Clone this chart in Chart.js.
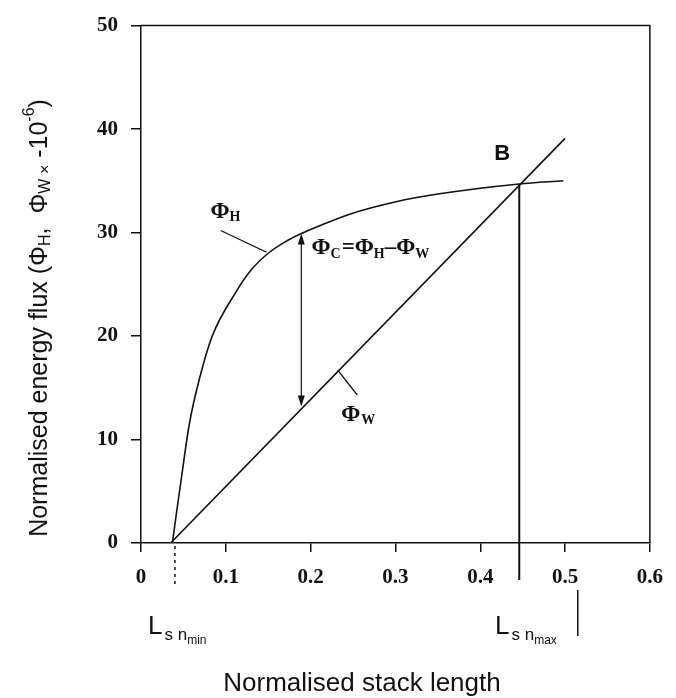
<!DOCTYPE html>
<html>
<head>
<meta charset="utf-8">
<script src="https://cdn.jsdelivr.net/npm/chart.js@4/dist/chart.umd.min.js"></script>
<style>
  html, body { margin: 0; padding: 0; background: #fff; }
  #wrap { width: 676px; height: 698px; }
</style>
</head>
<body>
<div id="wrap"><canvas id="chart-canvas" width="676" height="698"></canvas></div>
<script>
// values
const xTickLabels = ['0', '0.1', '0.2', '0.3', '0.4', '0.5', '0.6']
const yTickLabels = ['0', '10', '20', '30', '40', '50']

// heat flux curve (Phi_H)
const phiHx = [0.037, 0.042, 0.048, 0.057, 0.069, 0.084, 0.1115, 0.130, 0.150, 0.170, 0.189, 0.209, 0.247, 0.302, 0.348, 0.446, 0.498]
const phiHy = [0, 3.0, 6.5, 11.5, 15.9, 20.0, 24.2, 26.4, 28.0, 29.1, 29.9, 30.6, 31.8, 33.0, 33.7, 34.7, 35.0]

// work flux line (Phi_W)
const phiWx = [0.035, 0.5]
const phiWy = [0, 39.1]

// annotation anchors (data units)
const pointB = { x: 0.446, y: 34.7 }
const lsnMinX = 0.04
const markX = 0.515
const arrow = { x: 0.189, top: 29.9, bottom: 13.2 }
const labelPhiH = { x: 0.082, y: 32.0 }
const leaderPhiH = [{ x: 0.094, y: 30.2 }, { x: 0.148, y: 28.1 }]
const labelPhiC = { x: 0.201, y: 28.5 }
const labelPhiW = { x: 0.236, y: 12.4 }
const leaderPhiW = [{ x: 0.232, y: 16.7 }, { x: 0.255, y: 14.3 }]
const labelB = { x: 0.426, y: 37.6 }

const INK = '#111'
const SERIF = '"Liberation Serif", "DejaVu Serif", serif'
const SANS = '"Liberation Sans", Arial, sans-serif'

function toPoints (xs, ys) {
  return xs.map((x, i) => ({ x: x, y: ys[i] }))
}

// draws a run of text pieces, each with its own font and baseline shift
function drawRich (ctx, x, y, parts) {
  let cx = x
  parts.forEach(p => {
    ctx.font = p.font
    ctx.fillText(p.text, cx, y + (p.dy || 0))
    cx += ctx.measureText(p.text).width + (p.gap || 0)
  })
  return cx
}

function richWidth (ctx, parts) {
  let w = 0
  parts.forEach(p => {
    ctx.font = p.font
    w += ctx.measureText(p.text).width + (p.gap || 0)
  })
  return w
}

const annotations = {
  id: 'annotations',
  afterDatasetsDraw (chart) {
    const { ctx, chartArea: area, scales: { x, y } } = chart
    const px = v => x.getPixelForValue(v)
    const py = v => y.getPixelForValue(v)

    ctx.save()
    ctx.strokeStyle = INK
    ctx.fillStyle = INK
    ctx.lineCap = 'butt'

    // top and right frame
    ctx.lineWidth = 1.5
    ctx.beginPath()
    ctx.moveTo(area.left, area.top)
    ctx.lineTo(area.right, area.top)
    ctx.lineTo(area.right, area.bottom)
    ctx.stroke()

    // vertical drop from B through the axis
    ctx.lineWidth = 2
    ctx.beginPath()
    ctx.moveTo(px(pointB.x), py(pointB.y))
    ctx.lineTo(px(pointB.x), area.bottom + 37)
    ctx.stroke()

    // dotted marker at L_sn min
    ctx.lineWidth = 1.5
    ctx.setLineDash([3, 4])
    ctx.beginPath()
    ctx.moveTo(px(lsnMinX), area.bottom + 3)
    ctx.lineTo(px(lsnMinX), area.bottom + 42)
    ctx.stroke()
    ctx.setLineDash([])

    // short stroke right of L_sn max
    ctx.lineWidth = 1.5
    ctx.beginPath()
    ctx.moveTo(px(markX), area.bottom + 47)
    ctx.lineTo(px(markX), area.bottom + 93)
    ctx.stroke()

    // double arrow for Phi_C
    const ax = px(arrow.x)
    const at = py(arrow.top)
    const ab = py(arrow.bottom)
    ctx.lineWidth = 1.2
    ctx.beginPath()
    ctx.moveTo(ax, at + 6)
    ctx.lineTo(ax, ab - 6)
    ctx.stroke()
    ctx.beginPath()
    ctx.moveTo(ax, at)
    ctx.lineTo(ax - 3.5, at + 11)
    ctx.lineTo(ax + 3.5, at + 11)
    ctx.closePath()
    ctx.fill()
    ctx.beginPath()
    ctx.moveTo(ax, ab)
    ctx.lineTo(ax - 3.5, ab - 11)
    ctx.lineTo(ax + 3.5, ab - 11)
    ctx.closePath()
    ctx.fill()

    // leader lines
    ctx.lineWidth = 1.3
    ;[leaderPhiH, leaderPhiW].forEach(l => {
      ctx.beginPath()
      ctx.moveTo(px(l[0].x), py(l[0].y))
      ctx.lineTo(px(l[1].x), py(l[1].y))
      ctx.stroke()
    })

    // curve labels
    const big = 'bold 23px ' + SERIF
    const sub = 'bold 14px ' + SERIF
    ctx.textBaseline = 'middle'
    ctx.textAlign = 'left'
    drawRich(ctx, px(labelPhiH.x), py(labelPhiH.y), [
      { text: 'Φ', font: big },
      { text: 'H', font: sub, dy: 6 }
    ])
    drawRich(ctx, px(labelPhiW.x), py(labelPhiW.y), [
      { text: 'Φ', font: big, gap: 1 },
      { text: 'W', font: sub, dy: 6 }
    ])
    drawRich(ctx, px(labelPhiC.x), py(labelPhiC.y), [
      { text: 'Φ', font: big },
      { text: 'C', font: sub, dy: 6, gap: 1 },
      { text: '=', font: big },
      { text: 'Φ', font: big },
      { text: 'H', font: sub, dy: 6 },
      { text: '–', font: big },
      { text: 'Φ', font: big },
      { text: 'W', font: sub, dy: 6 }
    ])

    ctx.font = 'bold 22px ' + SANS
    ctx.textAlign = 'center'
    ctx.fillText('B', px(labelB.x), py(labelB.y))

    // L_sn labels under the axis
    ctx.textAlign = 'left'
    ctx.textBaseline = 'alphabetic'
    const lBase = area.bottom + 91
    const lParts = tail => [
      { text: 'L', font: '26px ' + SANS, gap: 2 },
      { text: 's n', font: '17px ' + SANS, dy: 6 },
      { text: tail, font: '12px ' + SANS, dy: 10 }
    ]
    drawRich(ctx, 148, lBase, lParts('min'))
    drawRich(ctx, 495, lBase, lParts('max'))

    // x title, sits left of the plot centre in the original
    ctx.textAlign = 'center'
    ctx.textBaseline = 'middle'
    ctx.font = '26px ' + SANS
    ctx.fillText('Normalised stack length', 362, 684)

    // rotated y title with sub/superscripts
    const t = '25px ' + SANS
    const s = '16px ' + SANS
    const yParts = [
      { text: 'Normalised energy flux (Φ', font: t },
      { text: 'H', font: s, dy: 6 },
      { text: ',  Φ', font: t },
      { text: 'W ×', font: s, dy: 6 },
      { text: ' -10', font: t },
      { text: '-6', font: s, dy: -10 },
      { text: ')', font: t }
    ]
    ctx.textAlign = 'left'
    ctx.translate(40, 318)
    ctx.rotate(-Math.PI / 2)
    drawRich(ctx, -richWidth(ctx, yParts) / 2, 0, yParts)

    ctx.restore()
  }
}

const ctx = document.getElementById('chart-canvas')
const options = {
  type: 'scatter',
  data: {
    datasets: [
      {
        label: 'Phi_H',
        data: toPoints(phiHx, phiHy),
        showLine: true,
        cubicInterpolationMode: 'monotone',
        borderColor: INK,
        borderWidth: 1.6,
        pointRadius: 0
      },
      {
        label: 'Phi_W',
        data: toPoints(phiWx, phiWy),
        showLine: true,
        borderColor: INK,
        borderWidth: 1.6,
        pointRadius: 0
      }
    ]
  },
  options: {
    responsive: false,
    animation: false,
    devicePixelRatio: 1,
    layout: {
      padding: { top: 20, right: 20, left: 0, bottom: 0 }
    },
    plugins: {
      legend: { display: false },
      tooltip: { enabled: false }
    },
    scales: {
      x: {
        type: 'linear',
        min: 0,
        max: 0.6,
        afterFit: function (scale) { scale.height = 155 },
        border: { display: true, color: INK, width: 1.5 },
        grid: { display: true, drawOnChartArea: false, drawTicks: true, tickLength: 9, color: INK, lineWidth: 1.5 },
        ticks: {
          stepSize: 0.1,
          padding: 13,
          color: INK,
          font: { family: SERIF, size: 21, weight: 'bold' },
          callback: function (val, index) {
            return xTickLabels[index]
          }
        }
      },
      y: {
        type: 'linear',
        min: 0,
        max: 50,
        afterFit: function (scale) { scale.width = 141 },
        border: { display: true, color: INK, width: 1.5 },
        grid: { display: true, drawOnChartArea: false, drawTicks: true, tickLength: 10, color: INK, lineWidth: 1.5 },
        ticks: {
          stepSize: 10,
          padding: 13,
          color: INK,
          font: { family: SERIF, size: 21, weight: 'bold' },
          callback: function (val, index) {
            return yTickLabels[index]
          }
        }
      }
    }
  },
  plugins: [annotations]
}

new Chart(ctx, options)
</script>
</body>
</html>
